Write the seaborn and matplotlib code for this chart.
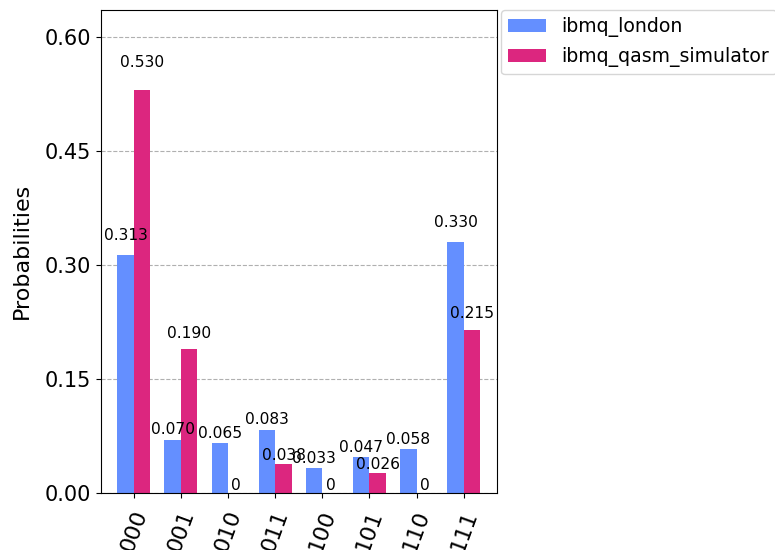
import pandas as pd
import seaborn as sns
import matplotlib.pyplot as plt

# counts
states = ['000', '001', '010', '011', '100', '101', '110', '111']
london = [0.313, 0.070, 0.065, 0.083, 0.033, 0.047, 0.058, 0.330]
simulator = [0.530, 0.190, 0.0, 0.038, 0.0, 0.026, 0.0, 0.215]
backends = ['ibmq_london', 'ibmq_qasm_simulator']
colors = ['#648fff', '#dc267f']

df = pd.DataFrame({
    'state': states * 2,
    'prob': london + simulator,
    'backend': [backends[0]] * len(states) + [backends[1]] * len(states),
})

fig = plt.figure(figsize=(7.75, 5.5), dpi=100)
ax = fig.add_axes([0.13, 0.104, 0.511, 0.878])

sns.barplot(data=df, x='state', y='prob', hue='backend', hue_order=backends,
            palette=colors, width=0.7, gap=0, saturation=1, ax=ax, zorder=2)

# value labels above each bar
for cont in ax.containers:
    for rect in cont:
        h = rect.get_height()
        label = '%.3f' % h if h > 1e-3 else '0'
        ax.text(rect.get_x() + rect.get_width() / 2., 1.05 * h, label,
                ha='center', va='bottom', fontsize=11.2, zorder=3)

ax.set_ylim(0, max(simulator) * 1.2)
ax.set_xlim(-0.7, 7.7)
ax.set_yticks([0, 0.15, 0.30, 0.45, 0.60])
ax.set_yticklabels(['%.2f' % t for t in [0, 0.15, 0.30, 0.45, 0.60]], fontsize=15)
ax.set_xticks(range(len(states)))
ax.set_xticklabels(states, rotation=70, fontsize=16)
ax.tick_params(axis='x', pad=7)
ax.yaxis.grid(True, linestyle='--', color='#b0b0b0')
ax.set_axisbelow(True)
ax.set_xlabel('')
ax.set_ylabel('Probabilities', fontsize=16, labelpad=9)
for s in ax.spines.values():
    s.set_color('black')

ax.legend(loc='upper left', bbox_to_anchor=(1.01, 1.0), ncol=1,
          borderaxespad=0, frameon=True, fontsize=13.6)

fig.savefig('out.png', dpi=100)
